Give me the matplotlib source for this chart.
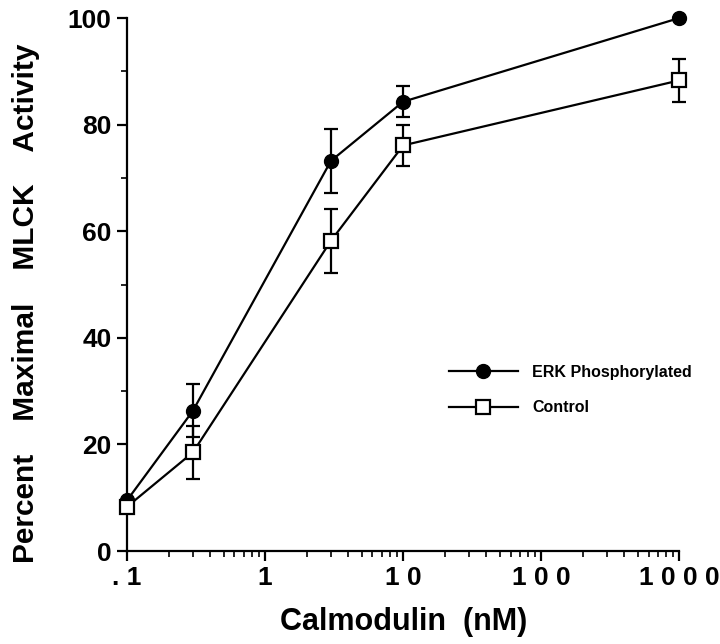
import matplotlib
matplotlib.use("Agg")
import matplotlib.pyplot as plt
from matplotlib.ticker import FixedLocator, NullFormatter

plt.rcParams['font.family'] = ['Liberation Sans', 'DejaVu Sans']
plt.rcParams['font.weight'] = 'bold'

# 钙调蛋白浓度 (nM)
calmodulin = [0.1, 0.3, 3, 10, 1000]
erk = [9.5, 26.3, 73.2, 84.3, 100]
erk_err = [0, 5.0, 6.0, 2.9, 0]
control = [8.3, 18.5, 58.2, 76.1, 88.3]
control_err = [0, 5.0, 6.0, 3.9, 4.0]

xticks = [0.1, 1, 10, 100, 1000]
xticklabels = ['. 1', '1', '1 0', '1 0 0', '1 0 0 0']
yticks = [0, 20, 40, 60, 80, 100]

fig = plt.figure(figsize=(7.2, 6.44), dpi=100)
ax = fig.add_axes([0.1764, 0.1444, 0.767, 0.8276])

ax.errorbar(calmodulin, erk, yerr=erk_err, color='black', lw=1.6,
            marker='o', ms=10, mfc='black', mec='black',
            capsize=5, capthick=1.6, elinewidth=1.6,
            label='ERK Phosphorylated', clip_on=False, zorder=3)
ax.errorbar(calmodulin, control, yerr=control_err, color='black', lw=1.6,
            marker='s', ms=10, mfc='white', mec='black', mew=1.6,
            capsize=5, capthick=1.6, elinewidth=1.6,
            label='Control', clip_on=False, zorder=4)

ax.set_xscale('log')
ax.set_xlim(0.1, 1000)
ax.set_ylim(0, 100)
ax.set_xticks(xticks)
ax.set_xticklabels(xticklabels)
ax.xaxis.set_minor_formatter(NullFormatter())
ax.set_yticks(yticks)
ax.yaxis.set_minor_locator(FixedLocator([10, 30, 50, 70, 90]))

for s in ['top', 'right']:
    ax.spines[s].set_visible(False)
for s in ['left', 'bottom']:
    ax.spines[s].set_linewidth(1.6)

ax.tick_params(axis='both', which='major', direction='out', length=7,
               width=1.6, labelsize=19, pad=4)
ax.tick_params(axis='both', which='minor', direction='out', length=4,
               width=1.2)

ax.set_xlabel('Calmodulin  (nM)', fontsize=22, fontweight='bold', labelpad=12)
ax.set_ylabel('Percent    Maximal    MLCK    Activity', fontsize=21.5,
              fontweight='bold', labelpad=20)
ax.yaxis.label.set_y(0.465)

handles, labels = ax.get_legend_handles_labels()
handles = [h[0] for h in handles]
ax.legend(handles, labels, loc='center left', bbox_to_anchor=(0.583, 0.302),
          frameon=False, fontsize=11.5, handlelength=4.3, handletextpad=0.9,
          labelspacing=1.3, borderpad=0, borderaxespad=0)

plt.savefig('out.png', dpi=100)
